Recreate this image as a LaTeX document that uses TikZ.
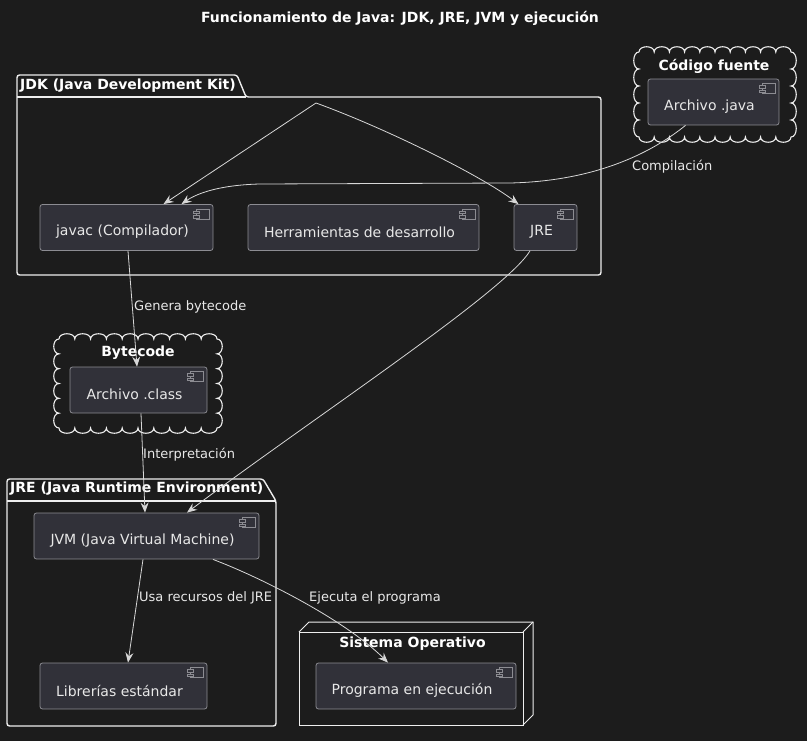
\documentclass[tikz,border=0pt]{standalone}
\usepackage{fontspec}
\setmainfont{DejaVu Sans}
\usetikzlibrary{arrows.meta,calc}

\definecolor{bg}{RGB}{28,28,28}
\definecolor{compfill}{RGB}{49,49,57}
\definecolor{compline}{RGB}{140,140,146}
\definecolor{edgecol}{RGB}{215,215,215}
\definecolor{framecol}{RGB}{238,238,238}
\definecolor{txt}{RGB}{232,232,232}

\tikzset{
  comp/.style={draw=compline, fill=compfill, rounded corners=2.5pt, line width=0.8pt,
    minimum width=#1, minimum height=46pt, inner sep=0pt},
  comptext/.style={text=txt, font=\fontsize{14}{16}\selectfont, inner sep=0pt},
  grouptitle/.style={text=white, font=\bfseries\fontsize{14}{16}\selectfont, inner sep=0pt},
  edgelabel/.style={text=txt, font=\fontsize{13}{15}\selectfont, inner sep=0pt, anchor=west},
  pkg/.style={draw=framecol, line width=1.4pt, rounded corners=2.5pt},
  nodebox/.style={draw=framecol, line width=1pt},
  cloudline/.style={draw=framecol, line width=1.1pt},
  iconline/.style={draw=compline, fill=compfill, line width=0.7pt},
  conn/.style={draw=edgecol, line width=0.8pt,
    -{Stealth[length=10pt,width=8pt,inset=3.5pt]}},
}

% small component glyph in the upper right corner of a box
\newcommand\compicon[1]{%
  \draw[iconline] ($(#1.north east)+(-17,5)$) rectangle ($(#1.north east)+(-4,15)$);
  \draw[iconline] ($(#1.north east)+(-20,7)$) rectangle ($(#1.north east)+(-14,9.5)$);
  \draw[iconline] ($(#1.north east)+(-20,11.5)$) rectangle ($(#1.north east)+(-14,14)$);
}

% scalloped cloud outline around the rectangle (x1,y1)-(x2,y2)
\newcommand\cloudpath[4]{%
  \pgfmathsetmacro\cwA{#3-#1}\pgfmathsetmacro\chA{#4-#2}%
  \pgfmathtruncatemacro\cnx{max(2,round(\cwA/16))}%
  \pgfmathtruncatemacro\cny{max(2,round(\chA/16))}%
  \pgfmathsetmacro\csx{\cwA/\cnx}\pgfmathsetmacro\csy{\chA/\cny}%
  \draw[cloudline] (#1,#2)
    \foreach \i in {1,...,\cnx}{ .. controls +(0,-7) and +(0,-7) .. ({#1+\i*\csx},#2) }
    \foreach \i in {1,...,\cny}{ .. controls +(7,0) and +(7,0) .. (#3,{#2+\i*\csy}) }
    \foreach \i in {1,...,\cnx}{ .. controls +(0,7) and +(0,7) .. ({#3-\i*\csx},#4) }
    \foreach \i in {1,...,\cny}{ .. controls +(-7,0) and +(-7,0) .. (#1,{#4-\i*\csy}) };
}

\begin{document}
\begin{tikzpicture}[x=1pt, y=-1pt]
  \fill[bg] (0,0) rectangle (807,741);
  \useasboundingbox (0,0) rectangle (807,741);

  \node[grouptitle] (title) at (400,18) {Funcionamiento de Java: JDK, JRE, JVM y ejecución};

  % ---- JDK package ----
  \draw[pkg] (17,275) -- (17,75) -- (237,75) -- (246,97) -- (601,97) -- (601,275) -- cycle;
  \draw[framecol, line width=1.4pt] (17,97) -- (246,97);
  \node[grouptitle, anchor=west] (jdklabel) at (20,86) {JDK (Java Development Kit)};

  \node[comp=173pt] (javac) at (126.5,227.5) {};
  \node[comp=231pt] (tools) at (363.5,227.5) {};
  \node[comp=63pt]  (jre)   at (545.5,227.5) {};
  \node[comptext] (javactext) at ($(javac.center)+(-4,4.5)$) {javac (Compilador)};
  \node[comptext] (toolstext) at ($(tools.center)+(-4,4.5)$) {Herramientas de desarrollo};
  \node[comptext] (jretext)   at ($(jre.center)+(-4,4.5)$) {JRE};
  \compicon{javac}\compicon{tools}\compicon{jre}
  \coordinate (hub) at (316,103);

  % ---- source cloud ----
  \cloudpath{639}{52}{791}{137}
  \node[grouptitle] (srclabel) at (714,66) {Código fuente};
  \node[comp=131pt] (java) at (713.5,102) {};
  \node[comptext] (javatext) at ($(java.center)+(-4,4.5)$) {Archivo .java};
  \compicon{java}

  % ---- bytecode cloud ----
  \cloudpath{59}{339}{217}{428}
  \node[grouptitle] (bclabel) at (138,353) {Bytecode};
  \node[comp=137pt] (cls) at (138.5,390) {};
  \node[comptext] (clstext) at ($(cls.center)+(-4,4.5)$) {Archivo .class};
  \compicon{cls}

  % ---- JRE package ----
  \draw[pkg] (7,726) -- (7,479) -- (263,479) -- (276,501) -- (276,726) -- cycle;
  \draw[framecol, line width=1.4pt] (7,501) -- (276,501);
  \node[grouptitle, anchor=west] (jrelabel) at (10,489) {JRE (Java Runtime Environment)};

  \node[comp=225pt] (jvm) at (146.5,536) {};
  \node[comptext] (jvmtext) at ($(jvm.center)+(-4,4.5)$) {JVM (Java Virtual Machine)};
  \compicon{jvm}
  \node[comp=167pt] (lib) at (123.5,686) {};
  \node[comptext] (libtext) at ($(lib.center)+(-4,4.5)$) {Librerías estándar};
  \compicon{lib}

  % ---- operating system node ----
  \draw[nodebox] (299,632) rectangle (523,725);
  \draw[nodebox] (299,632) -- (309,622) -- (533,622) -- (533,715) -- (523,725);
  \draw[nodebox] (523,632) -- (533,622);
  \node[grouptitle] (oslabel) at (412.5,644) {Sistema Operativo};
  \node[comp=200pt] (prog) at (416,686) {};
  \node[comptext] (progtext) at ($(prog.center)+(-4,4.5)$) {Programa en ejecución};
  \compicon{prog}

  % ---- connectors ----
  \draw[conn] (hub) -- ($(javac.north)+(37,0)$);
  \draw[conn] (hub) .. controls (385,128) and (480,175) .. ($(jre.north)+(-27,0)$);

  \draw[conn] ($(java.south)+(-28,0)$) .. controls (655,150) and (600,181) .. (510,183)
     -- (260,184) .. controls (218,185) and (196,194) .. ($(javac.north)+(55,0)$);
  \node[edgelabel] (lcomp) at (632,167) {Compilación};

  \draw[conn] ($(javac.south)+(1.5,0)$) -- ($(cls.north)+(-1.5,0)$);
  \node[edgelabel] (lgen) at (134,307) {Genera bytecode};

  \draw[conn] ($(cls.south)+(2.5,0)$) -- ($(jvm.north)+(-1.5,0)$);
  \node[edgelabel] (linter) at (143,455) {Interpretación};

  \draw[conn] ($(jre.south)+(-15.5,0)$) .. controls (505,292) and (310,420) .. ($(jvm.north)+(40.5,0)$);

  \draw[conn] ($(jvm.south)+(-3.5,0)$) -- ($(lib.north)+(4.5,0)$);
  \node[edgelabel] (luse) at (139,598) {Usa recursos del JRE};

  \draw[conn] ($(jvm.south)+(66.5,0)$) .. controls (262,578) and (345,620) .. ($(prog.north)+(-28,0)$);
  \node[edgelabel] (lexec) at (309,598) {Ejecuta el programa};
\end{tikzpicture}
\end{document}
